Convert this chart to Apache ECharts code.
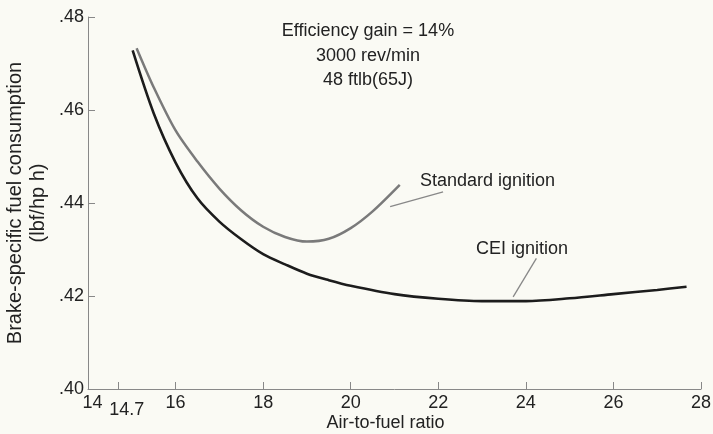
<!DOCTYPE html>
<html>
<head>
<meta charset="utf-8">
<script src="https://cdn.jsdelivr.net/npm/echarts@6/dist/echarts.min.js"></script>
<style>
  html, body { margin: 0; padding: 0; background: #fafaf4; }
  #main { width: 713px; height: 434px; }
</style>
</head>
<body>
<div id="main"></div>
<script>
// values
const xLabelValues = [14, 14.7, 16, 18, 20, 22, 24, 26, 28];
const xTickValues = [14.7, 16, 18, 20, 22, 24, 26, 28];

const ceiData = [
  [15.02, 0.4728], [15.5, 0.4593], [16.0, 0.4487], [16.5, 0.4410],
  [17.0, 0.4360], [17.5, 0.4322], [18.0, 0.4290], [18.5, 0.4268],
  [19.0, 0.4248], [19.5, 0.4234], [20.0, 0.4222], [21.0, 0.4204],
  [22.0, 0.4194], [23.0, 0.4189], [24.0, 0.4189], [25.0, 0.4195],
  [26.0, 0.4204], [27.0, 0.4213], [27.67, 0.4220]
];
const standardData = [
  [15.11, 0.4733], [15.5, 0.4649], [16.0, 0.4556], [16.5, 0.4489],
  [17.0, 0.4431], [17.5, 0.4384], [18.0, 0.4349], [18.5, 0.4327],
  [19.0, 0.4317], [19.5, 0.4323], [20.0, 0.4346], [20.5, 0.4382],
  [21.12, 0.4439]
];
// leader lines for the curve labels
const standardLeader = [[20.9, 0.4392], [22.11, 0.4424]];
const ceiLeader = [[24.24, 0.4281], [23.71, 0.4198]];

const font = 'Liberation Sans, Arial, Helvetica, sans-serif';
const ink = '#222';

const chart = echarts.init(document.getElementById('main'));
chart.setOption({
  backgroundColor: '#fafaf4',
  animation: false,
  grid: { left: 88, right: 12, top: 17, bottom: 45, containLabel: false, outerBoundsMode: 'none' },
  xAxis: {
    type: 'value',
    min: 14, max: 28,
    name: 'Air-to-fuel ratio',
    nameLocation: 'middle',
    nameGap: 25,
    nameMoveOverlap: false,
    nameTextStyle: { fontFamily: font, fontSize: 18, color: ink, padding: [0, 18, 0, 0] },
    axisLine: { lineStyle: { color: '#888', width: 1 } },
    axisTick: { inside: true, length: 7, customValues: xTickValues, lineStyle: { color: '#888' } },
    axisLabel: {
      customValues: xLabelValues,
      margin: 5,
      fontFamily: font, fontSize: 18, color: ink,
      formatter: function (v) {
        if (v === 14.7) return '{low|14.7}';
        if (v === 14) return '{first|14}';
        return String(v);
      },
      rich: {
        low: { padding: [7, 0, 0, 16], fontFamily: font, fontSize: 18, color: ink },
        first: { padding: [0, 0, 0, 9], fontFamily: font, fontSize: 18, color: ink }
      }
    },
    splitLine: { show: false }
  },
  yAxis: {
    type: 'value',
    min: 0.40, max: 0.48, interval: 0.02,
    name: 'Brake-specific fuel consumption\n(lbf/hp h)',
    nameLocation: 'middle',
    nameGap: 38,
    nameMoveOverlap: false,
    nameTextStyle: { fontFamily: font, fontSize: 20, color: ink, lineHeight: 23 },
    axisLine: { show: true, lineStyle: { color: '#888', width: 1 } },
    axisTick: { show: true, inside: true, length: 7, lineStyle: { color: '#888' } },
    axisLabel: {
      margin: 4,
      fontFamily: font, fontSize: 18, color: ink,
      formatter: function (v) { return v.toFixed(2).replace(/^0/, ''); }
    },
    splitLine: { show: false }
  },
  series: [
    {
      name: 'Standard ignition',
      type: 'line',
      data: standardData,
      smooth: 0.3,
      showSymbol: false,
      lineStyle: { color: '#7a7a7a', width: 2.5 },
      markLine: {
        silent: true, symbol: 'none', label: { show: false },
        lineStyle: { color: '#888', width: 1.3, type: 'solid' },
        data: [[{ coord: standardLeader[0] }, { coord: standardLeader[1] }]]
      }
    },
    {
      name: 'CEI ignition',
      type: 'line',
      data: ceiData,
      smooth: 0.3,
      showSymbol: false,
      lineStyle: { color: '#1c1c1c', width: 2.6 },
      markLine: {
        silent: true, symbol: 'none', label: { show: false },
        lineStyle: { color: '#888', width: 1.3, type: 'solid' },
        data: [[{ coord: ceiLeader[0] }, { coord: ceiLeader[1] }]]
      }
    }
  ],
  graphic: [
    {
      type: 'text', x: 368, y: 56,
      style: {
        text: 'Efficiency gain = 14%\n3000 rev/min\n48 ftlb(65J)',
        align: 'center', verticalAlign: 'middle', lineHeight: 24.5,
        font: '18px ' + font, fill: ink
      }
    },
    {
      type: 'text', x: 420, y: 181,
      style: { text: 'Standard ignition', verticalAlign: 'middle', font: '18px ' + font, fill: ink }
    },
    {
      type: 'text', x: 476, y: 249,
      style: { text: 'CEI ignition', verticalAlign: 'middle', font: '18px ' + font, fill: ink }
    }
  ]
});
</script>
</body>
</html>
